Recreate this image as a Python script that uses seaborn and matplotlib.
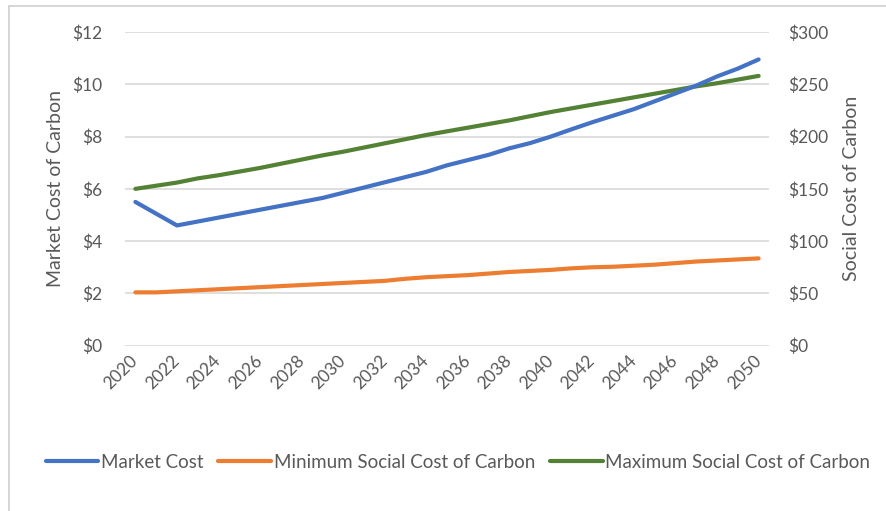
import numpy as np
import pandas as pd
import matplotlib
matplotlib.use("Agg")
import matplotlib.pyplot as plt
from matplotlib.lines import Line2D
import seaborn as sns

# --- data ---------------------------------------------------------------
years = list(range(2020, 2051))
market_cost = [5.50, 5.05, 4.60, 4.75, 4.90, 5.05, 5.20, 5.35, 5.50, 5.65,
               5.85, 6.05, 6.25, 6.45, 6.65, 6.90, 7.10, 7.30, 7.55, 7.75,
               8.00, 8.28, 8.55, 8.80, 9.05, 9.35, 9.65, 9.95, 10.30, 10.60,
               10.95]
min_social_cost = [51, 51, 52, 53, 54, 55, 56, 57, 58, 59,
                   60, 61, 62, 64, 65.5, 66.5, 67.5, 69, 70.5, 71.5,
                   72.5, 74, 75, 75.5, 76.5, 77.5, 79, 80.5, 81.5, 82.5,
                   83.5]
max_social_cost = [150, 153, 156, 160, 163, 166.5, 170, 174, 178, 182,
                   185.5, 189.5, 193.5, 197.5, 201.5, 205, 208.5, 212, 215.5, 219.5,
                   223.5, 227, 230.5, 234, 237.5, 241, 244.5, 248, 251, 254.5,
                   258]

left_ticks = [0, 2, 4, 6, 8, 10, 12]
right_ticks = [0, 50, 100, 150, 200, 250, 300]
year_ticks = list(range(2020, 2051, 2))

series_names = ["Market Cost", "Minimum Social Cost of Carbon",
                "Maximum Social Cost of Carbon"]
series_colors = ["#4472C4", "#ED7D31", "#548235"]

df = pd.DataFrame({
    "Year": years,
    "Market": market_cost,
    "MinSocial": min_social_cost,
    "MaxSocial": max_social_cost,
})

# --- styling ------------------------------------------------------------
sns.set_theme(style="white")
plt.rcParams["font.family"] = ["Lato", "DejaVu Sans"]
text_color = "#595959"
grid_color = "#D9D9D9"

W, H = 886, 511
fig = plt.figure(figsize=(W / 100, H / 100), dpi=100)

# chart border (top and left edges)
fig.add_artist(Line2D([9 / W, 9 / W], [0, 1 - 6 / H], transform=fig.transFigure,
                      color="#D0D0D0", lw=1.2))
fig.add_artist(Line2D([9 / W, 1], [1 - 6 / H, 1 - 6 / H], transform=fig.transFigure,
                      color="#D0D0D0", lw=1.2))

left, right_px, top_px, bottom_px = 125, 769, 32, 345.7
ax = fig.add_axes([left / W, 1 - bottom_px / H,
                   (right_px - left) / W, (bottom_px - top_px) / H])
ax2 = ax.twinx()

lw = 3.0
sns.lineplot(data=df, x="Year", y="Market", ax=ax, color=series_colors[0],
             lw=lw, solid_capstyle="round", zorder=3, legend=False)
sns.lineplot(data=df, x="Year", y="MinSocial", ax=ax2, color=series_colors[1],
             lw=lw, solid_capstyle="round", legend=False)
sns.lineplot(data=df, x="Year", y="MaxSocial", ax=ax2, color=series_colors[2],
             lw=lw, solid_capstyle="round", legend=False)

# market line sits above the social lines
ax.set_zorder(ax2.get_zorder() + 1)
ax.patch.set_visible(False)

ax.set_xlim(2019.5, 2050.5)
ax.set_ylim(0, 12)
ax2.set_ylim(0, 300)

ax.set_yticks(left_ticks)
ax.set_yticklabels([f"${v}" for v in left_ticks])
ax2.set_yticks(right_ticks)
ax2.set_yticklabels([f"${v}" for v in right_ticks])
ax.set_xticks(year_ticks)
ax.set_xticklabels([str(y) for y in year_ticks], rotation=45, ha="right",
                   va="center", rotation_mode="anchor")

for a in (ax, ax2):
    for s in a.spines.values():
        s.set_visible(False)
    a.tick_params(length=0, colors=text_color, labelsize=12.5)

ax.tick_params(axis="y", pad=16)
ax2.tick_params(axis="y", pad=14)
ax.tick_params(axis="x", pad=9)

# horizontal gridlines drawn beneath everything
ax2.grid(False)
ax.grid(False)
for v in left_ticks:
    ax2.axhline(v * 25, color=grid_color, lw=1.2, zorder=0)

ax.set_xlabel("")
ax.set_ylabel("Market Cost of Carbon", color=text_color, fontsize=14, labelpad=6)
ax2.set_ylabel("Social Cost of Carbon", color=text_color, fontsize=14, labelpad=10)

handles = [Line2D([0], [0], color=c, lw=lw, solid_capstyle="round")
           for c in series_colors]
fig.legend(handles, series_names, loc="center", bbox_to_anchor=(458 / W, 1 - 462 / H),
           ncol=3, frameon=False, fontsize=13.5, labelcolor=text_color,
           handlelength=2.8, handletextpad=0.15, columnspacing=0.8)

fig.savefig("out.png", dpi=100, facecolor="white")
